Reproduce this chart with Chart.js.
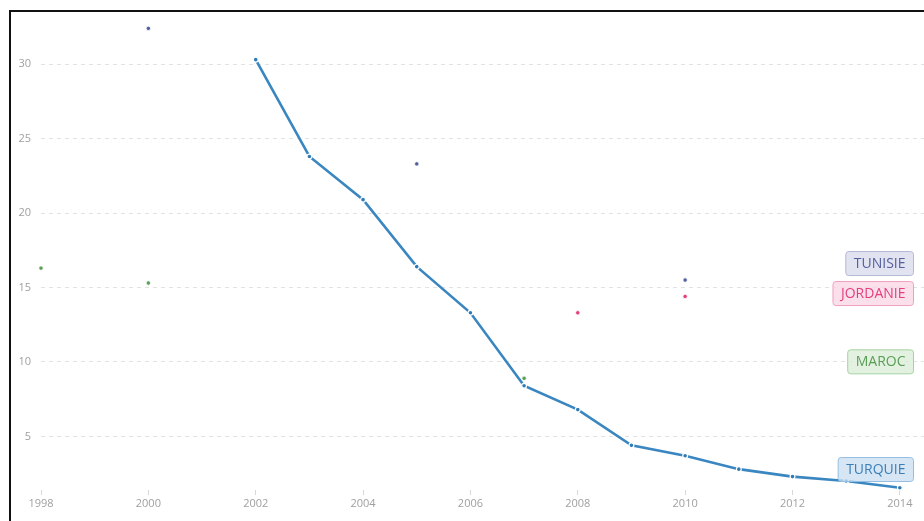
<!DOCTYPE html>
<html>
<head>
<meta charset="utf-8">
<script src="https://cdn.jsdelivr.net/npm/chart.js@4"></script>
<style>
  html, body { margin: 0; padding: 0; background: #fff; }
  #wrap { position: relative; width: 924px; height: 521px; }
  #frame { position: absolute; left: 9px; top: 10px; right: 0; bottom: 0;
           border-left: 2px solid #111; border-top: 2px solid #111; pointer-events: none; }
</style>
</head>
<body>
<div id="wrap">
  <canvas id="chart" width="924" height="521"></canvas>
  <div id="frame"></div>
</div>
<script>
// Data
const turquieYears = [2002, 2003, 2004, 2005, 2006, 2007, 2008, 2009, 2010, 2011, 2012, 2013, 2014];
const turquieValues = [30.3, 23.8, 20.9, 16.4, 13.3, 8.4, 6.8, 4.4, 3.7, 2.8, 2.3, 2.0, 1.55];
const tunisieYears = [2000, 2005, 2010];
const tunisieValues = [32.4, 23.3, 15.5];
const jordanieYears = [2008, 2010];
const jordanieValues = [13.3, 14.4];
const marocYears = [1998, 2000, 2007];
const marocValues = [16.3, 15.3, 8.9];

const seriesNames = ["TUNISIE", "JORDANIE", "MAROC", "TURQUIE"];

function toPoints(xs, ys) {
  return xs.map((x, i) => ({ x: x, y: ys[i] }));
}

// colours for each series: point/text, box fill, box border
const styles = {
  TUNISIE: { color: "#55609e", fill: "rgba(215,218,236,0.75)", border: "#b4b9d6" },
  JORDANIE: { color: "#e2407e", fill: "rgba(250,214,228,0.75)", border: "#f0a0bf" },
  MAROC: { color: "#5a9e56", fill: "rgba(218,236,215,0.75)", border: "#a6d2a2" },
  TURQUIE: { color: "#3b7fb8", fill: "rgba(200,222,240,0.75)", border: "#94bfe2" }
};

// end labels at the right edge
const endLabels = {
  id: "endLabels",
  afterDatasetsDraw(chart) {
    const ctx = chart.ctx;
    const area = chart.chartArea;
    const yScale = chart.scales.y;
    const h = 24, gap = 6;
    let items = chart.data.datasets.map(ds => {
      const last = ds.data[ds.data.length - 1];
      return { name: ds.label, y: yScale.getPixelForValue(last.y) - 17 };
    });
    items.sort((a, b) => a.y - b.y);
    for (let i = 1; i < items.length; i++) {
      if (items[i].y < items[i - 1].y + h + gap) items[i].y = items[i - 1].y + h + gap;
    }
    const maxY = area.bottom - 21;
    items.forEach(it => { if (it.y > maxY) it.y = maxY; });

    ctx.save();
    ctx.font = "14px 'Open Sans'";
    ctx.textBaseline = "middle";
    items.forEach(it => {
      const st = styles[it.name];
      const w = ctx.measureText(it.name).width + 16;
      const right = area.right - 11;
      const left = right - w;
      const top = it.y - h / 2;
      ctx.beginPath();
      ctx.roundRect(left + 0.5, top + 0.5, w, h, 3);
      ctx.fillStyle = st.fill;
      ctx.fill();
      ctx.lineWidth = 1;
      ctx.strokeStyle = st.border;
      ctx.stroke();
      ctx.fillStyle = st.color;
      ctx.textAlign = "center";
      ctx.fillText(it.name, left + w / 2 + 0.5, it.y + 1);
    });
    ctx.restore();
  }
};

function dotSet(name, xs, ys) {
  return {
    label: name,
    data: toPoints(xs, ys),
    showLine: false,
    clip: false,
    pointRadius: 2.2,
    pointBorderWidth: 0.8,
    pointBorderColor: "#fff",
    pointBackgroundColor: styles[name].color,
    borderColor: styles[name].color
  };
}

const ctx = document.getElementById("chart").getContext("2d");
new Chart(ctx, {
  type: "line",
  data: {
    datasets: [
      dotSet("TUNISIE", tunisieYears, tunisieValues),
      dotSet("JORDANIE", jordanieYears, jordanieValues),
      dotSet("MAROC", marocYears, marocValues),
      {
        label: "TURQUIE",
        data: toPoints(turquieYears, turquieValues),
        clip: false,
        borderColor: "#3a86c0",
        borderWidth: 2.6,
        tension: 0,
        pointRadius: 2.4,
        pointBorderWidth: 1.2,
        pointBorderColor: "#fff",
        pointBackgroundColor: "#2f7bb8"
      }
    ]
  },
  options: {
    responsive: false,
    animation: false,
    layout: { autoPadding: false, padding: { top: 12, right: 0, left: 0, bottom: 0 } },
    plugins: {
      legend: { display: false },
      tooltip: { enabled: false }
    },
    scales: {
      x: {
        type: "linear",
        min: 1998,
        max: 2014.45,
        afterFit: s => { s.height = 31; },
        ticks: {
          stepSize: 2,
          includeBounds: false,
          color: "#a0a0a0",
          font: { family: "'Open Sans'", size: 11 },
          padding: 2,
          maxRotation: 0,
          callback: v => String(v)
        },
        grid: { drawOnChartArea: false, drawTicks: true, tickLength: 5, color: "#d8d8d8" },
        border: { display: false }
      },
      y: {
        min: 1.4,
        max: 33.5,
        afterFit: s => { s.width = 41; s.paddingTop = 0; s.paddingBottom = 0; },
        ticks: {
          stepSize: 5,
          includeBounds: false,
          color: "#a0a0a0",
          font: { family: "'Open Sans'", size: 11 },
          padding: 10
        },
        grid: { color: "#e2e2e2", drawTicks: false },
        border: { display: false, dash: [4, 4] }
      }
    }
  },
  plugins: [endLabels]
});
</script>
</body>
</html>
